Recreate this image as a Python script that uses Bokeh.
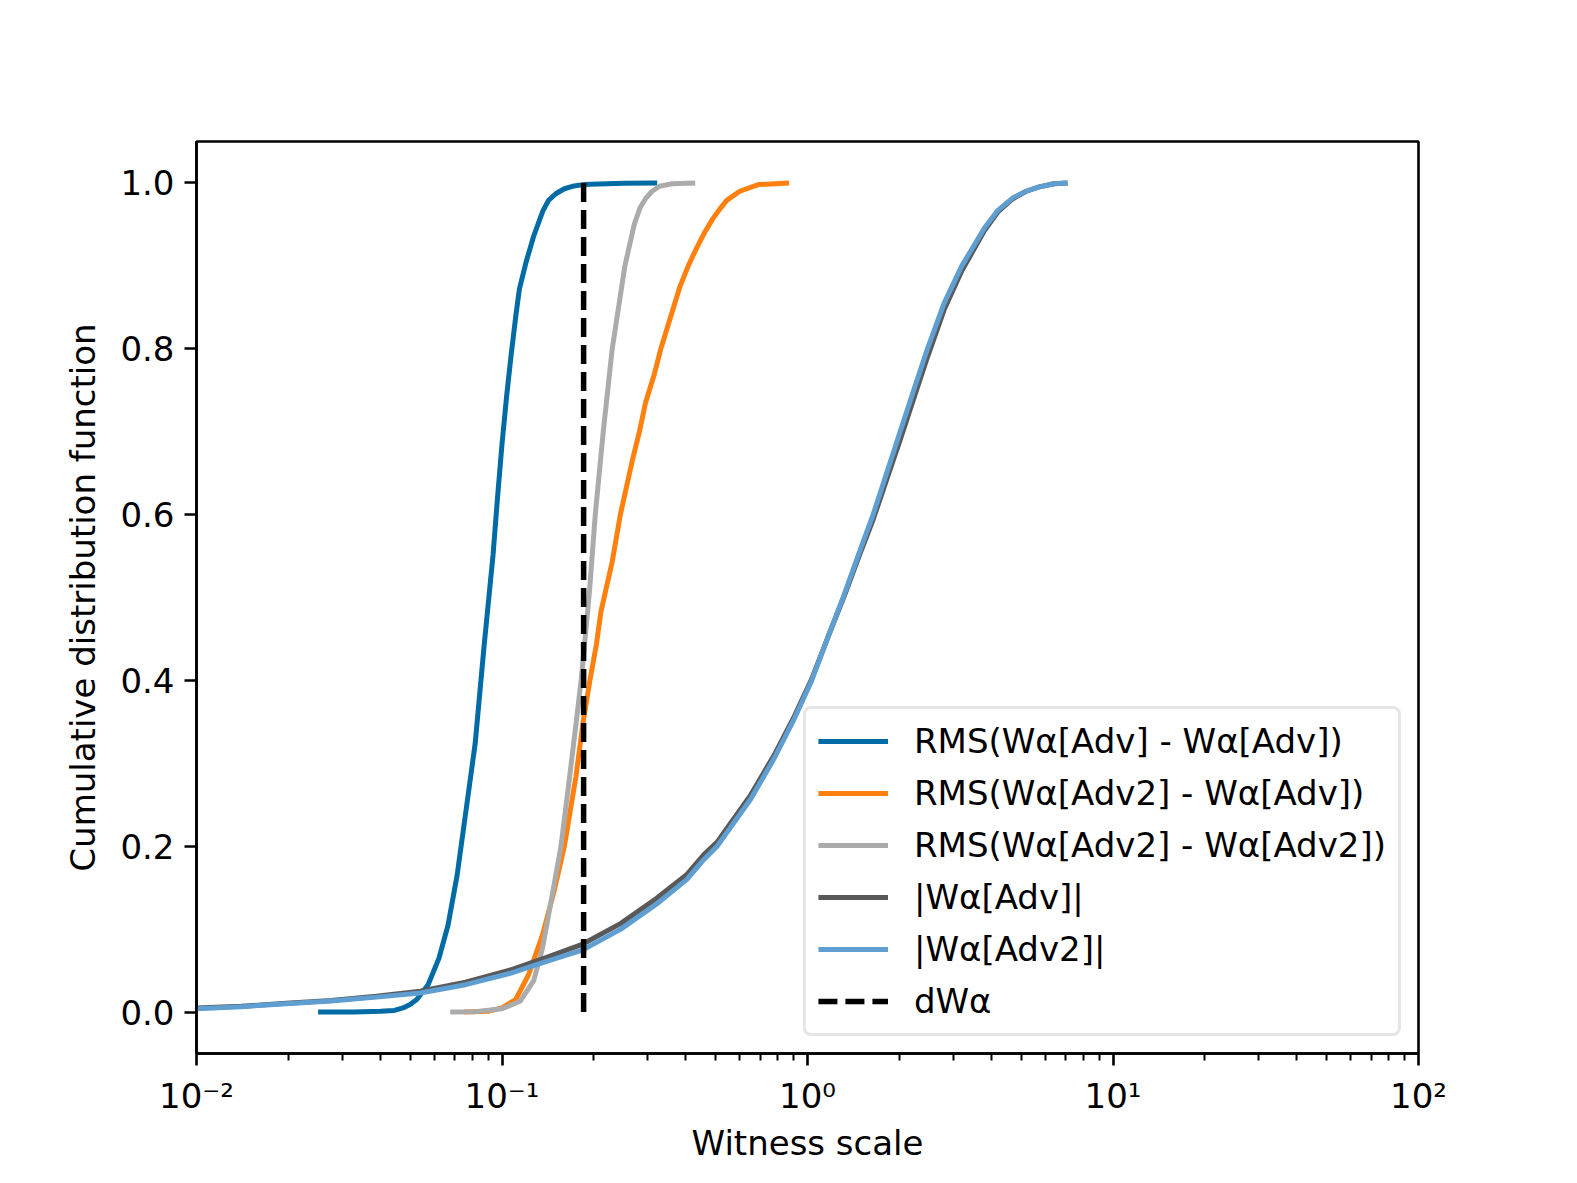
from bokeh.plotting import figure
from bokeh.models import FixedTicker, PrintfTickFormatter, CustomJSTickFormatter
from bokeh.embed import file_html
from bokeh.resources import INLINE

# ---------------- data ----------------
rms_adv_adv_x = [0.025, 0.0327, 0.040, 0.0444, 0.0474, 0.050, 0.0526, 0.0573, 0.0622,
                 0.0666, 0.0713, 0.0763, 0.0817, 0.0874, 0.0935, 0.0967, 0.100, 0.1035,
                 0.107, 0.111, 0.114, 0.120, 0.127, 0.136, 0.142, 0.150, 0.160, 0.170,
                 0.184, 0.25, 0.322]
rms_adv_adv_y = [0.0, 0.0, 0.001, 0.002, 0.005, 0.009, 0.015, 0.033, 0.065,
                 0.105, 0.165, 0.244, 0.324, 0.442, 0.552, 0.621, 0.685, 0.742,
                 0.791, 0.840, 0.872, 0.905, 0.936, 0.966, 0.979, 0.987, 0.993, 0.996,
                 0.998, 0.9995, 1.0]

rms_adv2_adv_x = [0.075, 0.090, 0.100, 0.1108, 0.1222, 0.1357, 0.1478, 0.160, 0.1746,
                  0.184, 0.194, 0.2037, 0.2108, 0.2296, 0.244, 0.267, 0.2817, 0.295,
                  0.3155, 0.331, 0.344, 0.3815, 0.407, 0.429, 0.46, 0.49, 0.52, 0.544,
                  0.60, 0.69, 0.87]
rms_adv2_adv_y = [0.0, 0.001, 0.005, 0.015, 0.045, 0.093, 0.1446, 0.20, 0.284,
                  0.348, 0.40, 0.4435, 0.483, 0.5435, 0.60, 0.665, 0.70, 0.735,
                  0.77, 0.80, 0.82, 0.874, 0.90, 0.918, 0.940, 0.957, 0.970, 0.979,
                  0.990, 0.998, 1.0]

rms_adv2_adv2_x = [0.0677, 0.0817, 0.100, 0.1146, 0.127, 0.1357, 0.145, 0.156, 0.166,
                   0.175, 0.1816, 0.1936, 0.202, 0.2145, 0.2295, 0.2525, 0.271, 0.283,
                   0.295, 0.31, 0.328, 0.36, 0.429]
rms_adv2_adv2_y = [0.0, 0.0005, 0.004, 0.013, 0.038, 0.077, 0.135, 0.20, 0.28,
                   0.35, 0.40, 0.51, 0.60, 0.70, 0.80, 0.90, 0.950, 0.970,
                   0.981, 0.990, 0.996, 0.999, 1.0]

w_x = [0.01, 0.014, 0.0197, 0.0276, 0.0388, 0.054, 0.076, 0.107, 0.14, 0.184,
       0.245, 0.32, 0.403, 0.458, 0.506, 0.546, 0.652, 0.778, 0.906, 1.03,
       1.166, 1.32, 1.50, 1.64, 2.01, 2.25, 2.47, 2.8, 3.2, 3.8,
       4.2, 4.7, 5.2, 5.7, 6.4, 7.1]
w_adv_y = [0.005, 0.007, 0.0105, 0.014, 0.019, 0.025, 0.036, 0.051, 0.066, 0.082,
           0.107, 0.137, 0.166, 0.19, 0.205, 0.222, 0.262, 0.31, 0.357, 0.401,
           0.452, 0.502, 0.557, 0.594, 0.69, 0.745, 0.79, 0.847, 0.894, 0.943,
           0.965, 0.981, 0.990, 0.995, 0.999, 1.0]
w_adv2_y = [0.004, 0.0065, 0.010, 0.0134, 0.018, 0.023, 0.033, 0.047, 0.061, 0.075,
            0.10, 0.13, 0.160, 0.184, 0.20, 0.217, 0.257, 0.306, 0.354, 0.399,
            0.452, 0.504, 0.561, 0.60, 0.70, 0.755, 0.80, 0.855, 0.90, 0.946,
            0.967, 0.982, 0.990, 0.995, 0.999, 1.0]

dw_alpha = 0.185
dw_y = [1.0, 0.0]

labels = ["RMS(Wα[Adv] - Wα[Adv])", "RMS(Wα[Adv2] - Wα[Adv])",
          "RMS(Wα[Adv2] - Wα[Adv2])", "|Wα[Adv]|", "|Wα[Adv2]|", "dWα"]
colors = ["#006BA4", "#FF800E", "#ABABAB", "#595959", "#5F9ED1", "black"]

x_ticks = [0.01, 0.1, 1, 10, 100]
y_ticks = [0.0, 0.2, 0.4, 0.6, 0.8, 1.0]

FONT = "DejaVu Sans"

# ---------------- figure ----------------
p = figure(width=1568, height=1178, x_axis_type="log",
           x_range=(0.01, 100), y_range=(-0.05, 1.05),
           output_backend="svg", toolbar_location=None,
           min_border_left=196, min_border_right=150,
           min_border_top=141, min_border_bottom=125)
p.background_fill_color = "white"
p.border_fill_color = "white"
p.grid.visible = False
p.outline_line_color = "black"
p.outline_line_width = 2.6

series = [(rms_adv_adv_x, rms_adv_adv_y), (rms_adv2_adv_x, rms_adv2_adv_y),
          (rms_adv2_adv2_x, rms_adv2_adv2_y), (w_x, w_adv_y), (w_x, w_adv2_y)]
for (xs, ys), c, lab in zip(series, colors[:5], labels[:5]):
    p.line(xs, ys, line_color=c, line_width=5, legend_label=lab)

p.line([dw_alpha, dw_alpha], dw_y, line_color=colors[5], line_width=5.5,
       line_dash="19 8", legend_label=labels[5])

# axes
minor = [m * 10.0 ** e for e in range(-2, 2) for m in range(2, 10)]
p.xaxis.ticker = FixedTicker(ticks=x_ticks, minor_ticks=minor)
p.xaxis.formatter = CustomJSTickFormatter(code="""
const e = Math.round(Math.log10(tick));
const sup = {'-':'\u207b','0':'\u2070','1':'\u00b9','2':'\u00b2','3':'\u00b3',
             '4':'\u2074','5':'\u2075','6':'\u2076','7':'\u2077','8':'\u2078','9':'\u2079'};
return '10' + String(e).split('').map(c => sup[c]).join('');
""")
p.yaxis.ticker = FixedTicker(ticks=y_ticks)
p.yaxis.formatter = PrintfTickFormatter(format="%.1f")

p.xaxis.axis_label = "Witness scale"
p.yaxis.axis_label = "Cumulative distribution function"

for ax in (p.xaxis, p.yaxis):
    ax.axis_line_color = "black"
    ax.axis_line_width = 2.6
    ax.major_tick_line_color = "black"
    ax.major_tick_line_width = 2.6
    ax.minor_tick_line_color = "black"
    ax.minor_tick_line_width = 2.0
    ax.major_tick_in = 0
    ax.major_tick_out = 12
    ax.minor_tick_in = 0
    ax.minor_tick_out = 7
    ax.major_label_text_font = FONT
    ax.major_label_text_font_size = "34px"
    ax.major_label_text_color = "black"
    ax.axis_label_text_font = FONT
    ax.axis_label_text_font_size = "34px"
    ax.axis_label_text_font_style = "normal"
    ax.axis_label_text_color = "black"
    ax.major_label_standoff = 10
p.xaxis.axis_label_standoff = 4
p.yaxis.axis_label_standoff = 14

# legend
lg = p.legend[0]
lg.location = "bottom_right"
lg.margin = 17
lg.padding = 12
lg.spacing = 12
lg.glyph_width = 70
lg.glyph_height = 40
lg.label_height = 40
lg.label_standoff = 26
lg.label_text_font = FONT
lg.label_text_font_size = "34px"
lg.label_text_color = "black"
lg.border_line_color = "#cccccc"
lg.border_line_width = 3
lg.background_fill_color = "white"
lg.background_fill_alpha = 0.8
if "border_radius" in lg.properties():
    lg.border_radius = 8

open("out.html", "w").write(file_html(p, INLINE))
